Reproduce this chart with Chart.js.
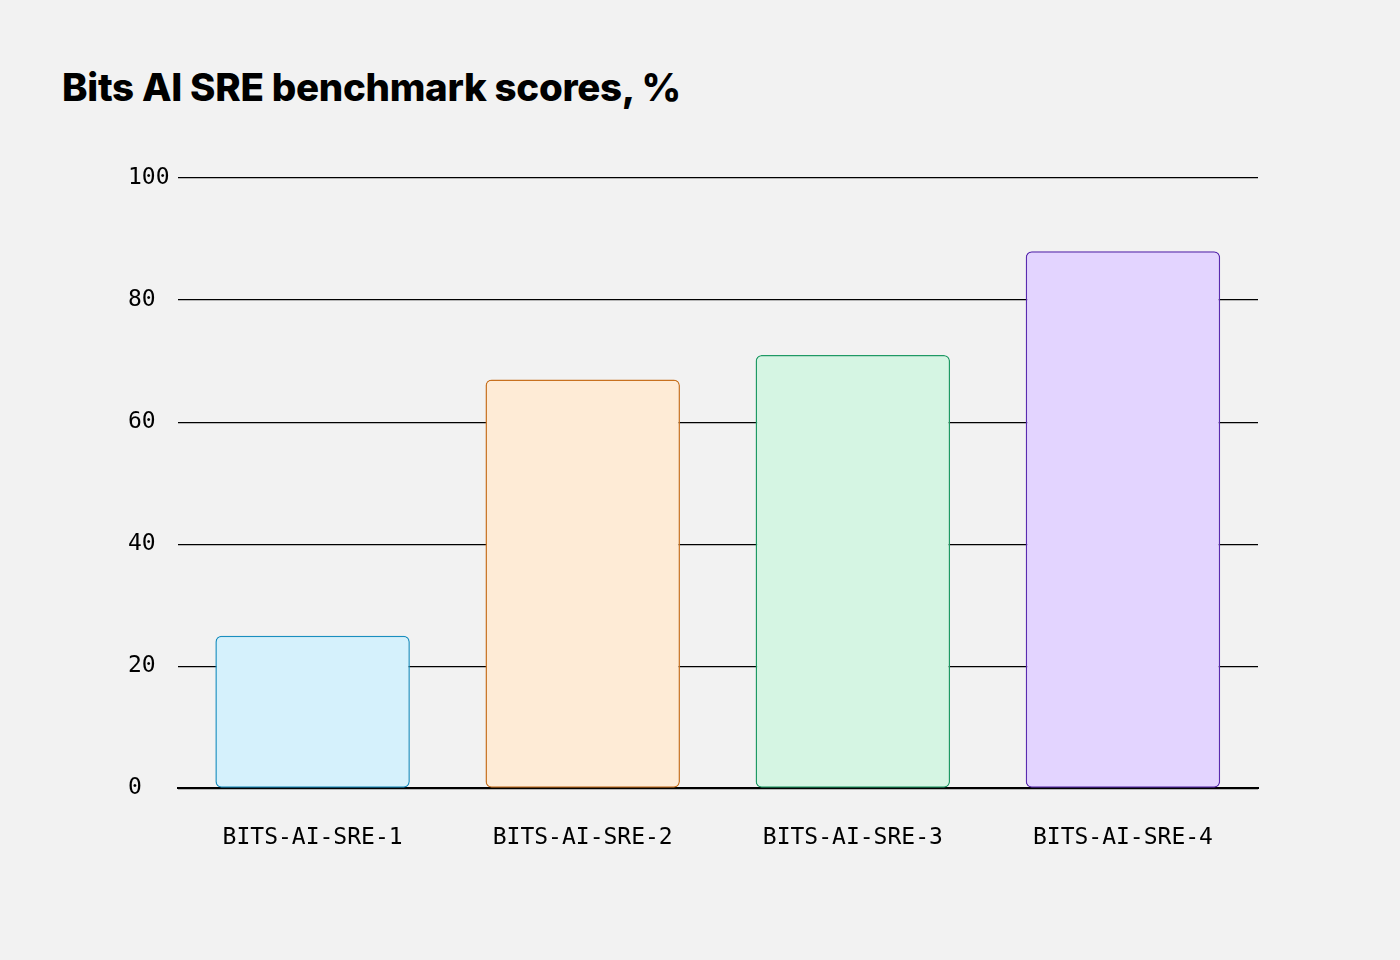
<!DOCTYPE html>
<html><head><meta charset="utf-8">
<script src="https://cdn.jsdelivr.net/npm/chart.js@4"></script>
<style>
html,body{margin:0;padding:0;background:#f2f2f2;width:1400px;height:960px;overflow:hidden}
h1{position:absolute;left:62px;top:64px;margin:0;font-family:Inter,"Noto Sans",sans-serif;font-weight:800;font-size:38.5px;color:#000;letter-spacing:-0.3px}
#wrap{position:absolute;left:0;top:0;width:1400px;height:960px}
</style></head><body>
<h1>Bits AI SRE benchmark scores, %</h1>
<div id="wrap"><canvas id="c"></canvas></div>
<script>
const categories=["BITS-AI-SRE-1","BITS-AI-SRE-2","BITS-AI-SRE-3","BITS-AI-SRE-4"];
const scores=[25,67,71,88];
const fills=["#d5f1fc","#feebd6","#d5f5e3","#e3d4ff"];
const borders=["#1a8fc0","#c8711f","#1e9a64","#5a2bb0"];
const yTicks=[0,20,40,60,80,100];
Chart.defaults.font.family='"DejaVu Sans Mono",monospace';
Chart.defaults.color='#000';
new Chart(document.getElementById('c'),{
type:'bar',
data:{labels:categories,datasets:[{data:scores,backgroundColor:fills,borderColor:borders,borderWidth:1.5,borderRadius:6,borderSkipped:false,barPercentage:0.72,categoryPercentage:1}]},
options:{responsive:true,maintainAspectRatio:false,animation:false,
layout:{padding:{left:128,right:142,top:178,bottom:80}},
plugins:{legend:{display:false},tooltip:{enabled:false}},
scales:{
x:{grid:{display:false},border:{color:'#000',width:2},ticks:{font:{size:23},padding:28}},
y:{min:0,max:100,afterBuildTicks:a=>{a.ticks=yTicks.map(v=>({value:v}))},
grid:{color:'#000',lineWidth:1.2,drawTicks:false},border:{display:false},
ticks:{font:{size:23},crossAlign:'far',padding:4}}
}}});
</script></body></html>
